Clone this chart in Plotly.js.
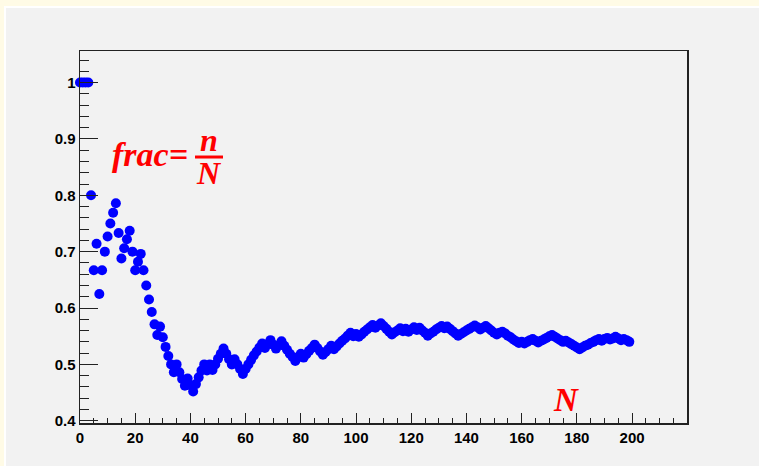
<!DOCTYPE html>
<html>
<head>
<meta charset="utf-8">
<script src="https://cdn.plot.ly/plotly-3.0.1.min.js"></script>
<style>
  html, body { margin: 0; padding: 0; background: #fffbe6; width: 759px; height: 466px; overflow: hidden; }
  #frame { position: absolute; left: 4px; top: 6px; width: 755px; height: 460px; background: #ffffff; }
  #chart { position: absolute; left: 6px; top: 8px; width: 753px; height: 458px; }
</style>
</head>
<body>
<div id="frame"></div>
<div id="chart"></div>
<script>
// Running fraction frac = n/N, one point per trial (x = trial index 0..199)
const fracValues = [
  1, 1, 1, 1, 0.8, 0.667, 0.714, 0.625, 0.667, 0.7,
  0.727, 0.75, 0.769, 0.786, 0.733, 0.688, 0.706, 0.722, 0.737, 0.7,
  0.667, 0.682, 0.696, 0.667, 0.64, 0.615, 0.593, 0.571, 0.552, 0.567,
  0.548, 0.531, 0.515, 0.5, 0.486, 0.5, 0.486, 0.474, 0.462, 0.475,
  0.463, 0.452, 0.465, 0.477, 0.489, 0.5, 0.489, 0.5, 0.49, 0.5,
  0.51, 0.519, 0.528, 0.519, 0.509, 0.5, 0.509, 0.5, 0.492, 0.483,
  0.492, 0.5, 0.508, 0.516, 0.523, 0.53, 0.537, 0.529, 0.536, 0.543,
  0.535, 0.528, 0.534, 0.541, 0.533, 0.526, 0.519, 0.513, 0.506, 0.513,
  0.519, 0.512, 0.518, 0.524, 0.529, 0.535, 0.529, 0.523, 0.517, 0.522,
  0.527, 0.533, 0.527, 0.532, 0.537, 0.542, 0.546, 0.551, 0.556, 0.55,
  0.554, 0.549, 0.553, 0.558, 0.562, 0.566, 0.57, 0.565, 0.569, 0.573,
  0.568, 0.563, 0.558, 0.553, 0.557, 0.56, 0.564, 0.559, 0.563, 0.558,
  0.562, 0.566, 0.561, 0.565, 0.56, 0.556, 0.551, 0.555, 0.558, 0.562,
  0.565, 0.568, 0.564, 0.567, 0.563, 0.559, 0.555, 0.551, 0.554, 0.557,
  0.56, 0.563, 0.566, 0.569, 0.566, 0.562, 0.565, 0.568, 0.564, 0.56,
  0.556, 0.553, 0.556, 0.558, 0.555, 0.551, 0.548, 0.544, 0.541, 0.538,
  0.54, 0.537, 0.54, 0.543, 0.545, 0.542, 0.539, 0.542, 0.544, 0.547,
  0.55, 0.552, 0.549, 0.546, 0.543, 0.54, 0.542, 0.539, 0.536, 0.533,
  0.53, 0.527, 0.53, 0.533, 0.535, 0.538, 0.54, 0.543, 0.545, 0.542,
  0.545, 0.547, 0.544, 0.546, 0.549, 0.546, 0.543, 0.545, 0.543, 0.54
];
const trialIndex = fracValues.map((v, i) => i);

const yTickVals = [0.4, 0.5, 0.6, 0.7, 0.8, 0.9, 1.0];
const yTickText = ['0.4', '0.5', '0.6', '0.7', '0.8', '0.9', '1'];
const xTickVals = [0, 20, 40, 60, 80, 100, 120, 140, 160, 180, 200];
const xTickText = ['0', '20', '40', '60', '80', '100', '120', '140', '160', '180', '200'];

const labelFont = { family: 'Liberation Sans, Arial, sans-serif', size: 15, color: '#000', weight: 'bold' };
const redFont = (s) => ({ family: 'Liberation Serif, Times New Roman, serif', size: s, color: '#ff0000', weight: 'bold', style: 'italic' });

const trace = {
  x: trialIndex,
  y: fracValues,
  type: 'scatter',
  mode: 'markers',
  marker: { color: '#0000ff', size: 10, line: { width: 0 } },
  cliponaxis: false,
  hoverinfo: 'x+y'
};

const layout = {
  width: 753,
  height: 458,
  margin: { l: 74, r: 72, t: 43, b: 43, pad: 0 },
  paper_bgcolor: '#f2f2f2',
  plot_bgcolor: '#f2f2f2',
  showlegend: false,
  xaxis: {
    range: [0, 219.9],
    showgrid: false,
    zeroline: false,
    showline: true,
    linecolor: '#222',
    linewidth: 1.5,
    mirror: true,
    ticks: 'inside',
    ticklen: 10,
    tickwidth: 1,
    tickcolor: '#222',
    tickvals: xTickVals,
    ticktext: xTickText,
    tickfont: labelFont,
    minor: { dtick: 5, tick0: 0, ticks: 'inside', ticklen: 5, tickwidth: 1, tickcolor: '#222', showgrid: false },
    fixedrange: true
  },
  yaxis: {
    range: [0.396, 1.056],
    showgrid: false,
    zeroline: false,
    showline: true,
    linecolor: '#222',
    linewidth: 1.5,
    mirror: true,
    ticks: 'inside',
    ticklen: 18,
    tickwidth: 1,
    tickcolor: '#222',
    tickvals: yTickVals,
    ticktext: yTickText,
    tickfont: labelFont,
    minor: { dtick: 0.02, tick0: 0.4, ticks: 'inside', ticklen: 9, tickwidth: 1, tickcolor: '#222', showgrid: false },
    fixedrange: true
  },
  annotations: [
    { xref: 'paper', yref: 'paper', x: 0.182, y: 0.723, xanchor: 'right', yanchor: 'middle',
      text: 'frac=', showarrow: false, font: redFont(34) },
    { xref: 'paper', yref: 'paper', x: 0.2125, y: 0.76, xanchor: 'center', yanchor: 'middle',
      text: 'n', showarrow: false, font: redFont(32) },
    { xref: 'paper', yref: 'paper', x: 0.2125, y: 0.672, xanchor: 'center', yanchor: 'middle',
      text: 'N', showarrow: false, font: redFont(32) },
    { xref: 'paper', yref: 'paper', x: 0.8, y: 0.062, xanchor: 'center', yanchor: 'middle',
      text: 'N', showarrow: false, font: redFont(33) }
  ],
  shapes: [
    { type: 'line', xref: 'paper', yref: 'paper', x0: 0.1895, x1: 0.2356, y0: 0.715, y1: 0.715,
      line: { color: '#ff0000', width: 3 } }
  ]
};

Plotly.newPlot('chart', [trace], layout, { staticPlot: true, displayModeBar: false });
</script>
</body>
</html>
